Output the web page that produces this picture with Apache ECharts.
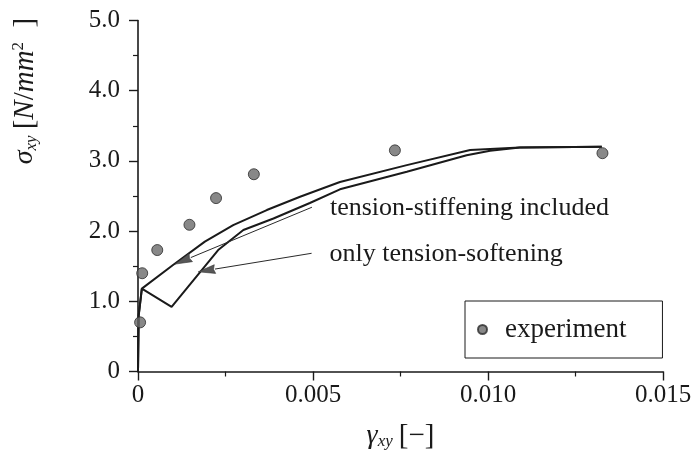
<!DOCTYPE html>
<html>
<head>
<meta charset="utf-8">
<script src="https://cdn.jsdelivr.net/npm/echarts@6/dist/echarts.min.js"></script>
<style>
  html, body { margin: 0; padding: 0; background: #fff; }
  #chart { width: 695px; height: 458px; }
</style>
</head>
<body>
<div id="chart"></div>
<script>
// Measured shear response of the panel: strain gamma_xy [-] vs stress sigma_xy [N/mm^2]
const expStrain = [0.00006, 0.00012, 0.00055, 0.00147, 0.00223, 0.00331, 0.00734, 0.01327];
const expStress = [0.70, 1.40, 1.73, 2.09, 2.47, 2.81, 3.15, 3.11];

// Analysis with tension-stiffening included
const stiffStrain = [0, 0.00002, 0.00011, 0.00101, 0.00191, 0.00272, 0.00368, 0.00463, 0.00577, 0.00768, 0.00949, 0.01091, 0.01325];
const stiffStress = [0, 0.80, 1.18, 1.52, 1.85, 2.085, 2.30, 2.49, 2.70, 2.94, 3.155, 3.19, 3.20];

// Analysis with only tension-softening
const softStrain = [0, 0.00002, 0.00011, 0.00096, 0.00229, 0.00301, 0.00387, 0.00491, 0.00577, 0.00768, 0.00939, 0.01006, 0.01091, 0.01325];
const softStress = [0, 0.80, 1.18, 0.92, 1.73, 2.016, 2.18, 2.40, 2.595, 2.846, 3.08, 3.145, 3.19, 3.20];

// Callouts: text, where the leader starts, where its arrow points
const noteTexts = ['tension-stiffening included', 'only tension-softening'];
const noteFrom = [[0.00497, 2.34], [0.00496, 1.684]];
const noteTo = [[0.00106, 1.53], [0.00172, 1.42]];

const serif = 'Liberation Serif';
const ink = '#1a1a1a';

const pairs = (xs, ys) => xs.map((x, i) => [x, ys[i]]);
const calloutRows = noteTexts.map((t, i) => [noteFrom[i][0], noteFrom[i][1], noteTo[i][0], noteTo[i][1]]);

// Leader line with a slim filled arrowhead, plus its text at the tail
function renderCallout(params, api) {
  const a = api.coord([api.value(0), api.value(1)]);
  const b = api.coord([api.value(2), api.value(3)]);
  const dx = b[0] - a[0], dy = b[1] - a[1];
  const len = Math.hypot(dx, dy);
  const ux = dx / len, uy = dy / len;
  const headLen = 17, headHalf = 4.4;
  const base = [b[0] - ux * headLen, b[1] - uy * headLen];
  const nx = -uy, ny = ux;
  return {
    type: 'group',
    children: [
      {
        type: 'line',
        shape: { x1: a[0], y1: a[1], x2: base[0], y2: base[1] },
        style: { stroke: '#2a2a2a', lineWidth: 1 }
      },
      {
        type: 'polygon',
        shape: { points: [
          [b[0], b[1]],
          [base[0] + nx * headHalf, base[1] + ny * headHalf],
          [base[0] + ux * 1.5, base[1] + uy * 1.5],
          [base[0] - nx * headHalf, base[1] - ny * headHalf]
        ] },
        style: { fill: '#575757', stroke: '#333', lineWidth: 0.6 }
      },
      {
        type: 'text',
        x: a[0] + 18,
        y: a[1] + 1,
        style: {
          text: noteTexts[params.dataIndex],
          fontFamily: serif,
          fontSize: 26,
          fill: ink,
          align: 'left',
          verticalAlign: 'middle'
        }
      }
    ]
  };
}

const chart = echarts.init(document.getElementById('chart'), null, { renderer: 'canvas' });

chart.setOption({
  animation: false,
  backgroundColor: '#fff',
  grid: { left: 138, right: 32, top: 20.5, bottom: 86.5 },
  legend: {
    data: ['experiment'],
    left: 465,
    top: 301,
    orient: 'horizontal',
    icon: 'circle',
    itemWidth: 9,
    itemHeight: 9,
    borderColor: ink,
    borderWidth: 1,
    borderRadius: 0,
    padding: [15, 36, 15, 12],
    textStyle: { fontFamily: serif, fontSize: 27, color: ink, padding: [0, 0, 0, 13] }
  },
  xAxis: {
    type: 'value',
    min: 0,
    max: 0.015,
    interval: 0.005,
    name: '{g|γ}{s|xy}  {n|[−]}',
    nameLocation: 'middle',
    nameGap: 50,
    nameTextStyle: {
      fontFamily: serif,
      color: ink,
      rich: {
        g: { fontFamily: serif, fontStyle: 'italic', fontSize: 28, color: ink },
        s: { fontFamily: serif, fontStyle: 'italic', fontSize: 17, color: ink, verticalAlign: 'bottom', padding: [9, 0, 0, 0] },
        n: { fontFamily: serif, fontSize: 29, color: ink }
      }
    },
    axisLine: { show: true, onZero: false, lineStyle: { color: ink, width: 1.6 } },
    axisTick: { show: true, inside: false, length: 9, lineStyle: { color: ink, width: 1.4 } },
    minorTick: { show: true, splitNumber: 2, length: 5, lineStyle: { color: ink, width: 1.2 } },
    splitLine: { show: false },
    axisLabel: {
      margin: 11,
      fontFamily: serif,
      fontSize: 25,
      color: ink,
      formatter: v => (v === 0 ? '0' : v.toFixed(3))
    }
  },
  yAxis: {
    type: 'value',
    min: 0,
    max: 5,
    interval: 1,
    name: '{g|σ}{s|xy}  {n|[}{i|N}{n|/}{i|mm}{p|2}{n|  ]}',
    nameLocation: 'middle',
    nameRotate: 90,
    nameGap: 98,
    nameTextStyle: {
      fontFamily: serif,
      color: ink,
      padding: [0, 0, 0, 210],
      rich: {
        g: { fontFamily: serif, fontStyle: 'italic', fontSize: 28, color: ink },
        s: { fontFamily: serif, fontStyle: 'italic', fontSize: 17, color: ink, verticalAlign: 'bottom', padding: [11, 0, 0, 0] },
        n: { fontFamily: serif, fontSize: 29, color: ink },
        i: { fontFamily: serif, fontStyle: 'italic', fontSize: 29, color: ink },
        p: { fontFamily: serif, fontSize: 17, color: ink, verticalAlign: 'top', padding: [0, 0, 13, 0] }
      }
    },
    axisLine: { show: true, onZero: false, lineStyle: { color: ink, width: 1.6 } },
    axisTick: { show: true, inside: false, length: 9, lineStyle: { color: ink, width: 1.4 } },
    minorTick: { show: true, splitNumber: 2, length: 5, lineStyle: { color: ink, width: 1.2 } },
    splitLine: { show: false },
    axisLabel: {
      margin: 18,
      fontFamily: serif,
      fontSize: 25,
      color: ink,
      formatter: v => (v === 0 ? '0' : v.toFixed(1))
    }
  },
  series: [
    {
      name: 'tension-stiffening included',
      type: 'line',
      data: pairs(stiffStrain, stiffStress),
      showSymbol: false,
      symbol: 'none',
      lineStyle: { color: ink, width: 2 },
      z: 3
    },
    {
      name: 'only tension-softening',
      type: 'line',
      data: pairs(softStrain, softStress),
      showSymbol: false,
      symbol: 'none',
      lineStyle: { color: ink, width: 2 },
      z: 3
    },
    {
      name: 'callouts',
      type: 'custom',
      data: calloutRows,
      renderItem: renderCallout,
      silent: true,
      z: 4
    },
    {
      name: 'experiment',
      type: 'scatter',
      data: pairs(expStrain, expStress),
      symbol: 'circle',
      symbolSize: 11,
      itemStyle: { color: '#6a6a6a', borderColor: '#2a2a2a', borderWidth: 1 },
      z: 5
    }
  ]
});
</script>
</body>
</html>
